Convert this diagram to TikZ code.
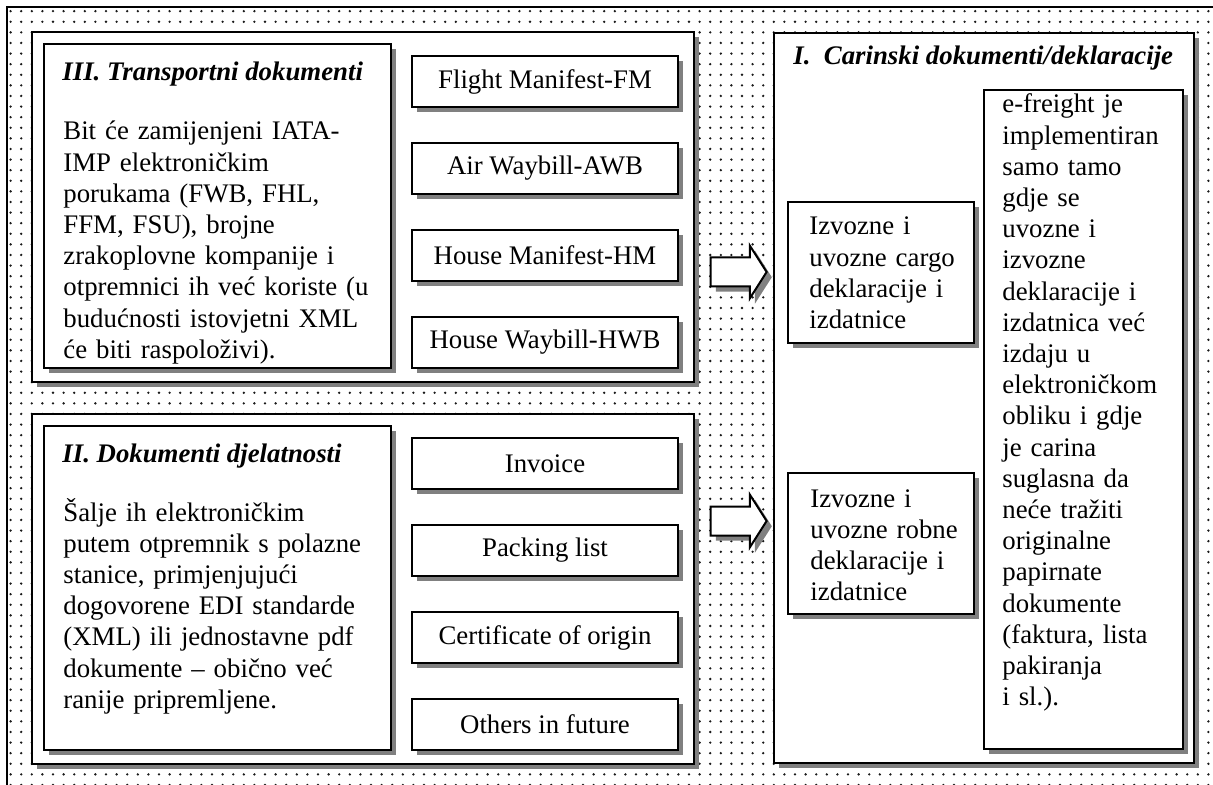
\documentclass[tikz,border=0pt]{standalone}
\usepackage{fontspec}
\setmainfont{Liberation Serif}
\usetikzlibrary{shapes.arrows,shadows,patterns.meta}

\tikzset{
  grayshadow/.style={drop shadow={shadow xshift=2.6pt,shadow yshift=-2.6pt,fill=black!50,opacity=1}},
  panel/.style={draw,line width=1.2pt,fill=white,anchor=north west,inner sep=0pt,grayshadow},
  docbox/.style={draw,line width=1pt,fill=white,anchor=north west,inner sep=0pt,grayshadow},
  bodytext/.style={anchor=base west,inner sep=0pt,text width=200pt,align=left},
  heading/.style={anchor=base west,inner sep=0pt,font=\fontsize{13.4pt}{15.6pt}\selectfont\bfseries\itshape},
  blockarrow/.style={single arrow,draw,line width=1pt,fill=white,inner xsep=0pt,inner ysep=6.75pt,
    single arrow head extend=6pt,single arrow tip angle=115,single arrow head indent=0pt,
    minimum height=28pt,grayshadow}
}

\begin{document}
\begin{tikzpicture}[x=0.5pt,y=-0.5pt,font=\fontsize{13.4pt}{15.6pt}\selectfont]
  \useasboundingbox (0,0) rectangle (1213,785);
  \clip (0,0) rectangle (1213,785);
  %% dotted background
  \fill[pattern={Dots[distance=5.3pt,radius=0.65pt]},pattern color=black!90] (7,7) rectangle (1260,830);
  \draw[line width=0.9pt] (7,7) rectangle (1260,830);

  %% III. transport documents
  \node[panel,minimum width=331pt,minimum height=175pt] (p3) at (31,31) {};
  \node[docbox,minimum width=173.5pt,minimum height=162pt] (t3box) at (43,43) {};
  \node[heading] (t3head) at (62,81) {III. Transportni dokumenti};
  \node[bodytext] (t3body) at (63,140) {Bit će zamijenjeni IATA-\\IMP elektroničkim\\porukama (FWB, FHL,\\FFM, FSU), brojne\\zrakoplovne kompanije i\\otpremnici ih već koriste (u\\budućnosti istovjetni XML\\će biti raspoloživi).};
  \node[docbox,minimum width=133pt,minimum height=25.5pt] (fm) at (411,55) {Flight Manifest-FM};
  \node[docbox,minimum width=133pt,minimum height=25.5pt] (awb) at (411,142) {Air Waybill-AWB};
  \node[docbox,minimum width=133pt,minimum height=25.5pt] (hm) at (411,229) {House Manifest-HM};
  \node[docbox,minimum width=133pt,minimum height=25.5pt] (hwb) at (411,316) {House Waybill-HWB};

  %% II. business documents
  \node[panel,minimum width=331pt,minimum height=175pt] (p2) at (31,413) {};
  \node[docbox,minimum width=173.5pt,minimum height=162pt] (t2box) at (43,425) {};
  \node[heading] (t2head) at (62,462) {II. Dokumenti djelatnosti};
  \node[bodytext] (t2body) at (63,521) {Šalje ih elektroničkim\\putem otpremnik s polazne\\stanice, primjenjujući\\dogovorene EDI standarde\\(XML) ili jednostavne pdf\\dokumente – obično već\\ranije pripremljene.};
  \node[docbox,minimum width=133pt,minimum height=25.5pt] (inv) at (411,437) {Invoice};
  \node[docbox,minimum width=133pt,minimum height=25.5pt] (pack) at (411,524) {Packing list};
  \node[docbox,minimum width=133pt,minimum height=25.5pt] (cert) at (411,611) {Certificate of origin};
  \node[docbox,minimum width=133pt,minimum height=25.5pt] (other) at (411,698) {Others in future};

  %% arrows
  \node[blockarrow] (arr3) at (734,272) {};
  \node[blockarrow] (arr2) at (734,521) {};

  %% I. customs documents
  \node[panel,minimum width=210pt,minimum height=365pt] (p1) at (773,32) {};
  \node[heading] (t1head) at (793,65) {I.~~Carinski dokumenti/deklaracije};
  \node[docbox,minimum width=93pt,minimum height=70.5pt] (izv1) at (787,201) {};
  \node[bodytext] (izv1txt) at (809,235) {Izvozne i\\uvozne cargo\\deklaracije i\\izdatnice};
  \node[docbox,minimum width=93pt,minimum height=70.5pt] (izv2) at (787,472) {};
  \node[bodytext] (izv2txt) at (810,507) {Izvozne i\\uvozne robne\\deklaracije i\\izdatnice};
  \node[docbox,minimum width=99.5pt,minimum height=329.5pt] (efbox) at (983,89) {};
  \node[bodytext] (eftxt) at (1002,113) {e-freight je\\implementiran\\samo tamo\\gdje se\\uvozne i\\izvozne\\deklaracije i\\izdatnica već\\izdaju u\\elektroničkom\\obliku i gdje\\je carina\\suglasna da\\neće tražiti\\originalne\\papirnate\\dokumente\\(faktura, lista\\pakiranja\\i sl.).};
\end{tikzpicture}
\end{document}
